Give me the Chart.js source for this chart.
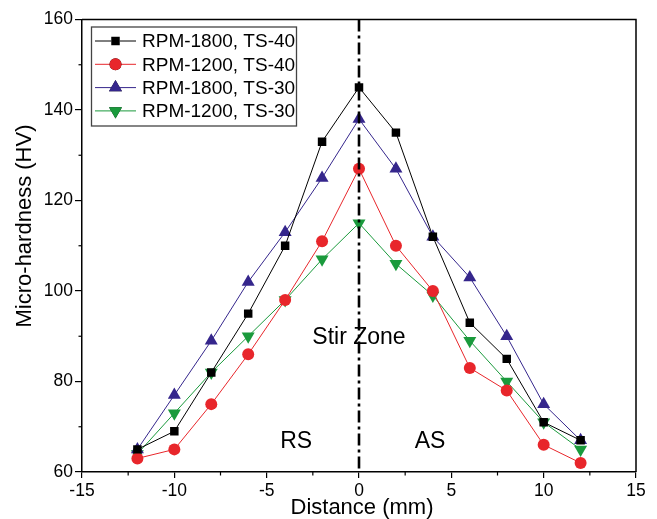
<!DOCTYPE html>
<html><head><meta charset="utf-8">
<script src="https://cdn.jsdelivr.net/npm/chart.js@4"></script>
<style>html,body{margin:0;padding:0;background:#fff}#wrap{width:657px;height:519px}</style>
</head><body><div id="wrap"><canvas id="c" width="657" height="519"></canvas></div>
<script>
const distance = [-12,-10,-8,-6,-4,-2,0,2,4,6,8,10,12];
const seriesNames = ["RPM-1800, TS-40","RPM-1200, TS-40","RPM-1800, TS-30","RPM-1200, TS-30"];
const rpm1800ts40 = [65,69,82,95,110,133,145,135,112,93,85,71,67];
const rpm1200ts40 = [63,65,75,86,98,111,127,110,100,83,78,66,62];
const rpm1800ts30 = [65,77,89,102,113,125,138,127,112,103,90,75,67];
const rpm1200ts30 = [64,73,82,90,98,107,115,106,99,89,80,71,65];
const xTicks = [-15,-10,-5,0,5,10,15];
const yTicks = [60,80,100,120,140,160];
const xTitle = "Distance (mm)";
const yTitle = "Micro-hardness (HV)";
const annotations = [{text:"Stir Zone",x:0,y:89.6},{text:"RS",x:-3.4,y:66.6},{text:"AS",x:3.85,y:66.6}];

const FONT = "'Liberation Sans', Arial, sans-serif";
function pts(arr){return distance.map((d,i)=>({x:d,y:arr[i]}));}
const styles = [
  {c:'#000000', ps:'rect', r:6, rot:0},
  {c:'#e8262b', ps:'circle', r:6, rot:0},
  {c:'#35268c', ps:'triangle', r:7.5, rot:0},
  {c:'#1a9a3c', ps:'triangle', r:7.5, rot:180}
];
const allData = [rpm1800ts40, rpm1200ts40, rpm1800ts30, rpm1200ts30];
const datasets = allData.map((arr,i)=>({
  label: seriesNames[i], data: pts(arr),
  borderColor: styles[i].c, backgroundColor: styles[i].c,
  borderWidth: 1, pointStyle: styles[i].ps, pointRadius: styles[i].r,
  pointRotation: styles[i].rot, pointBorderWidth: 0, pointHoverRadius: styles[i].r,
  tension: 0
}));

const extras = {
  id:'extras',
  afterDraw(chart){
    const ctx = chart.ctx, xs = chart.scales.x, ys = chart.scales.y, a = chart.chartArea;
    ctx.save();
    // box top/right
    ctx.strokeStyle='#000'; ctx.lineWidth=1.5;
    ctx.beginPath(); ctx.moveTo(a.left,a.top); ctx.lineTo(a.right,a.top); ctx.lineTo(a.right,a.bottom); ctx.stroke();
    // minor ticks
    ctx.lineWidth=1.2;
    for(let v=-15; v<=15; v+=2.5){ if(v%5!==0){const p=xs.getPixelForValue(v); ctx.beginPath(); ctx.moveTo(p,a.bottom); ctx.lineTo(p,a.bottom+3.5); ctx.stroke();} }
    for(let v=60; v<=160; v+=10){ if(v%20!==0){const p=ys.getPixelForValue(v); ctx.beginPath(); ctx.moveTo(a.left,p); ctx.lineTo(a.left-3.5,p); ctx.stroke();} }
    // dash-dot center line
    ctx.lineWidth=2.6; ctx.setLineDash([12,4,3,4]);
    const x0 = xs.getPixelForValue(0);
    ctx.beginPath(); ctx.moveTo(x0,a.top); ctx.lineTo(x0,a.bottom); ctx.stroke();
    ctx.setLineDash([]);
    // annotations
    ctx.fillStyle='#000'; ctx.font='23px '+FONT; ctx.textAlign='center'; ctx.textBaseline='middle';
    annotations.forEach(t=>{ctx.fillText(t.text, xs.getPixelForValue(t.x), ys.getPixelForValue(t.y));});
    // axis titles
    ctx.font='22px '+FONT;
    ctx.fillText(xTitle, 362, 508);
    ctx.save(); ctx.translate(25,226); ctx.rotate(-Math.PI/2); ctx.fillText(yTitle,0,0); ctx.restore();
    // legend
    const lx=91.5, ly=27, lw=205, lh=99;
    ctx.fillStyle='#fff'; ctx.fillRect(lx,ly,lw,lh);
    ctx.strokeStyle='#444'; ctx.lineWidth=1.3; ctx.strokeRect(lx,ly,lw,lh);
    ctx.font='19px '+FONT; ctx.textAlign='left';
    chart.data.datasets.forEach((ds,i)=>{
      const y = ly+14+i*23.3;
      ctx.strokeStyle=ds.borderColor; ctx.lineWidth=1;
      ctx.beginPath(); ctx.moveTo(95,y); ctx.lineTo(136,y); ctx.stroke();
      Chart.helpers.drawPoint(ctx,{pointStyle:ds.pointStyle,radius:ds.pointRadius,rotation:ds.pointRotation,borderWidth:0},115.5,y);
      ctx.fillStyle=ds.borderColor; ctx.fill();
      ctx.fillStyle='#000';
      ctx.fillText(ds.label,142,y+1);
    });
    ctx.restore();
  }
};

new Chart(document.getElementById('c'),{
  type:'line',
  data:{datasets},
  options:{
    responsive:false, animation:false, devicePixelRatio:1,
    layout:{padding:{top:19.5,right:21,left:0,bottom:0}},
    plugins:{legend:{display:false},tooltip:{enabled:false}},
    scales:{
      x:{type:'linear',min:-15,max:15,
        afterBuildTicks:s=>{s.ticks=xTicks.map(v=>({value:v}));},
        afterFit:s=>{s.height=47;},
        grid:{drawOnChartArea:false,tickLength:6,color:'#000',tickColor:'#000',lineWidth:1.2},
        border:{color:'#000',width:1.5},
        ticks:{color:'#000',font:{family:FONT,size:17.5},padding:3,maxRotation:0}
      },
      y:{type:'linear',min:60,max:160,
        afterBuildTicks:s=>{s.ticks=yTicks.map(v=>({value:v}));},
        afterFit:s=>{s.width=82;},
        grid:{drawOnChartArea:false,tickLength:7,color:'#000',tickColor:'#000',lineWidth:1.2},
        border:{color:'#000',width:1.5},
        ticks:{color:'#000',font:{family:FONT,size:17.5},padding:2}
      }
    }
  },
  plugins:[extras]
});
</script></body></html>
